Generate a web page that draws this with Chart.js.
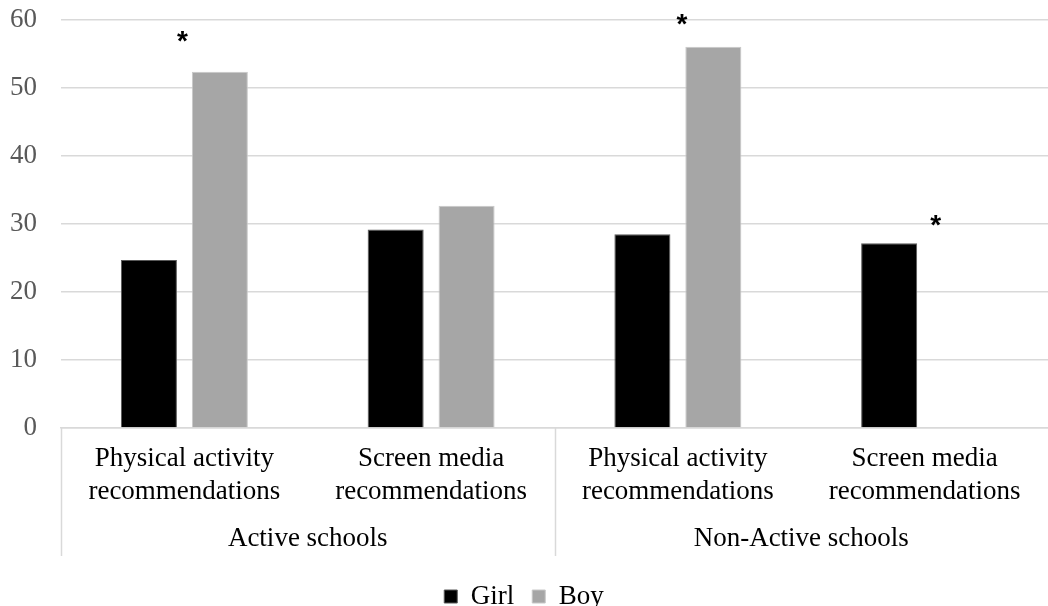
<!DOCTYPE html>
<html>
<head>
<meta charset="utf-8">
<script src="https://cdn.jsdelivr.net/npm/chart.js"></script>
<style>
    html, body { margin: 0; padding: 0; background: #fff; }
    #wrap { width: 1048px; height: 606px; }
</style>
</head>
<body>
<div id="wrap"><canvas id="chart"></canvas></div>
<script>
    // categories (two lines each) and the school group they sit under
    const categories = [
        ['Physical activity', 'recommendations'],
        ['Screen media', 'recommendations'],
        ['Physical activity', 'recommendations'],
        ['Screen media', 'recommendations']
    ];
    const groups = ['Active schools', 'Non-Active schools'];

    const girlValues = [24.7, 29.2, 28.5, 27.2];
    const boyValues = [52.4, 32.7, 56.1, null];

    // significance markers: category index and height (in axis units)
    const starIndex = [0, 2, 3];
    const starValue = [57.6, 60.1, 30.5];

    const yTicks = [0, 10, 20, 30, 40, 50, 60];

    const serif = '"Liberation Serif", "Times New Roman", serif';

    // draws the group row under the category labels, separators and the asterisks
    const extras = {
        id: 'extras',
        afterDraw(chart) {
            const ctx = chart.ctx;
            const x = chart.scales.x;
            const y = chart.scales.y;
            const area = chart.chartArea;
            ctx.save();

            // separators
            ctx.strokeStyle = '#d9d9d9';
            ctx.lineWidth = 1.5;
            const seps = [area.left, x.getPixelForValue(1.5)];
            seps.forEach(function (sx) {
                ctx.beginPath();
                ctx.moveTo(Math.round(sx) + 0.5, area.bottom);
                ctx.lineTo(Math.round(sx) + 0.5, area.bottom + 128);
                ctx.stroke();
            });

            // group labels
            ctx.fillStyle = '#000';
            ctx.font = '27px ' + serif;
            ctx.textAlign = 'center';
            ctx.textBaseline = 'middle';
            groups.forEach(function (g, i) {
                const cx = (x.getPixelForValue(i * 2) + x.getPixelForValue(i * 2 + 1)) / 2;
                ctx.fillText(g, cx, area.bottom + 111);
            });

            // asterisks
            const nudge = [-2, 4, 11];
            ctx.font = 'bold 28px "Liberation Sans", Arial, sans-serif';
            starIndex.forEach(function (ci, k) {
                const px = x.getPixelForValue(ci) + nudge[k];
                const py = y.getPixelForValue(starValue[k]);
                ctx.fillText('*', px, py + 6);
            });
            ctx.restore();
        }
    };

    new Chart(document.getElementById('chart'), {
        type: 'bar',
        data: {
            labels: categories,
            datasets: [{
                label: 'Girl',
                data: girlValues,
                backgroundColor: '#000000',
                borderColor: '#595959',
                borderWidth: 1
            }, {
                label: 'Boy',
                data: boyValues,
                backgroundColor: '#a6a6a6',
                borderColor: '#c8c8c8',
                borderWidth: 1
            }]
        },
        options: {
            responsive: true,
            maintainAspectRatio: false,
            animation: false,
            layout: { padding: { top: 0, right: 0, bottom: -14, left: 0 } },
            datasets: {
                bar: { categoryPercentage: 0.575, barPercentage: 0.79 }
            },
            plugins: {
                legend: {
                    position: 'bottom',
                    labels: {
                        boxWidth: 13,
                        boxHeight: 13,
                        padding: 18,
                        color: '#000',
                        font: { family: serif, size: 27 }
                    }
                },
                tooltip: { enabled: false }
            },
            scales: {
                x: {
                    grid: { display: false },
                    border: { color: '#d9d9d9', width: 1.5 },
                    ticks: {
                        color: '#000',
                        padding: 6,
                        maxRotation: 0,
                        autoSkip: false,
                        font: { family: serif, size: 27, lineHeight: 1.22 }
                    },
                    afterFit(scale) { scale.height = 137; }
                },
                y: {
                    min: 0,
                    max: 60,
                    afterBuildTicks(scale) {
                        scale.ticks = yTicks.map(function (v) { return { value: v }; });
                    },
                    grid: { color: '#d9d9d9', lineWidth: 1.5, tickLength: 20, tickColor: 'rgba(0,0,0,0)' },
                    border: { display: false },
                    ticks: {
                        color: '#595959',
                        padding: 4,
                        font: { family: serif, size: 27 }
                    },
                    afterFit(scale) { scale.width = 61; }
                }
            }
        },
        plugins: [extras]
    });
</script>
</body>
</html>
